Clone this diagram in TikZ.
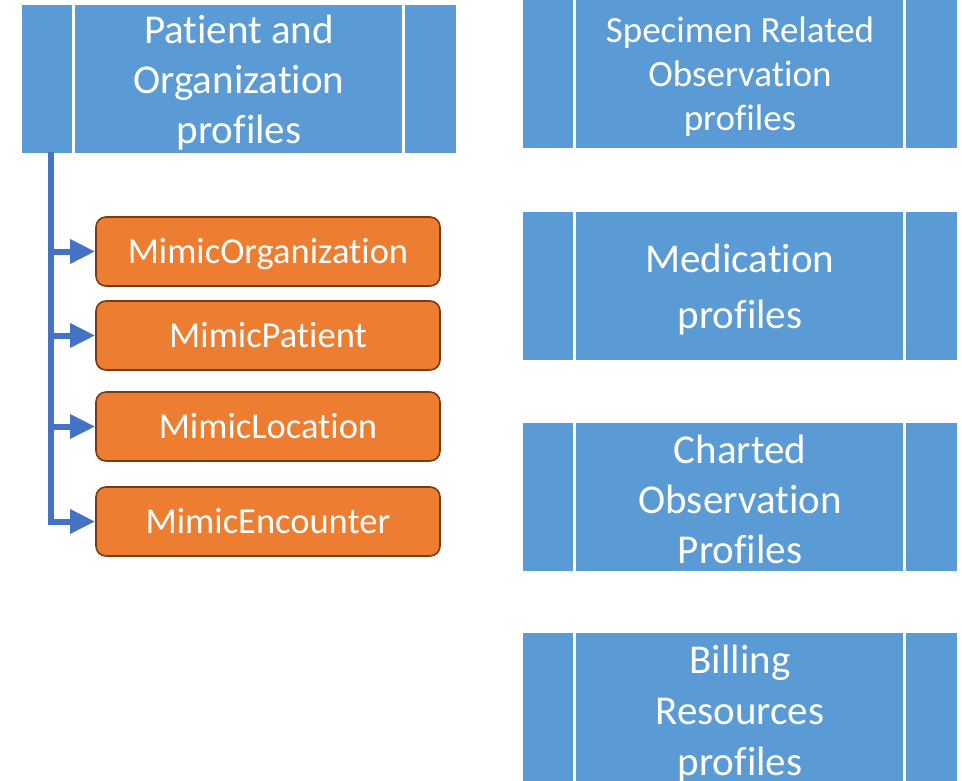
\documentclass[tikz,border=0pt]{standalone}
\usepackage{fontspec}
\setmainfont{Carlito}[Ligatures=NoCommon]
\usetikzlibrary{arrows.meta}
\definecolor{boxblue}{HTML}{5B9BD5}
\definecolor{boxorange}{HTML}{ED7D31}
\definecolor{orangeedge}{HTML}{7A3A12}
\definecolor{connblue}{HTML}{4472C4}
\newcommand{\nl}{\kern0pt }
\begin{document}
\begin{tikzpicture}[x=1pt,y=-1pt,
  group/.style={fill=boxblue, draw=none, minimum width=434pt, minimum height=148pt,
    inner sep=0pt},
  gtext/.style={inner sep=0pt, text=white, align=center},
  bigtext/.style={font=\fontsize{41pt}{50pt}\selectfont},
  billtext/.style={font=\fontsize{41pt}{51pt}\selectfont},
  smalltext/.style={font=\fontsize{37pt}{44pt}\selectfont},
  medtext/.style={font=\fontsize{41pt}{56pt}\selectfont},
  child/.style={fill=boxorange, draw=orangeedge, line width=1.6pt, rounded corners=10pt,
    minimum width=344pt, minimum height=69pt, inner sep=0pt, text=white,
    text height=23.5pt, text depth=0pt,
    font=\fontsize{36.5pt}{43pt}\selectfont},
  divider/.style={draw=white, line width=3pt},
  conn/.style={draw=connblue, line width=6pt},
  arr/.style={conn, -{Triangle[length=25pt,width=23pt]}}
]
\useasboundingbox (0,0) rectangle (962,780);
% blue group boxes
\node[group] (p) at (239,78.5) {};
\node[group] (s) at (740,74) {};
\node[group] (m) at (740,285.5) {};
\node[group] (c) at (740,496.5) {};
\node[group] (b) at (740,707) {};
\foreach \n in {p,s,m,c,b}{
  \draw[divider] ([xshift=52pt]\n.north west) -- ([xshift=52pt]\n.south west);
  \draw[divider] ([xshift=-53pt]\n.north east) -- ([xshift=-53pt]\n.south east);
}
\node[gtext, bigtext] (pt) at ([yshift=-4pt]p.center) {Pat\nl ient and\\Organizat\nl ion\\profiles};
\node[gtext, smalltext] (st) at ([yshift=-3pt]s.center) {Specimen Related\\Observat\nl ion\\profiles};
\node[gtext, medtext] (mt) at ([yshift=-4pt]m.center) {Medicat\nl ion\\profiles};
\node[gtext, bigtext] (ct) at ([yshift=-2.5pt]c.center) {Charted\\Observat\nl ion\\Profiles};
\node[gtext, billtext] (bt) at ([yshift=-7pt]b.center) {Billing\\Resources\\profiles};
% orange child boxes
\node[child] (o1) at (268,251.5) {MimicOrganizat\nl ion};
\node[child] (o2) at (268,335.5) {MimicPat\nl ient};
\node[child] (o3) at (268,426.5) {MimicLocat\nl ion};
\node[child] (o4) at (268,521.5) {MimicEncounter};
% connectors
\coordinate (t) at (51,152);
\draw[conn] (t) |- ([xshift=-20pt]o4.west);
\foreach \o in {o1,o2,o3,o4}{
  \draw[arr] (t |- \o.west) -- (\o.west);
}
\end{tikzpicture}
\end{document}
